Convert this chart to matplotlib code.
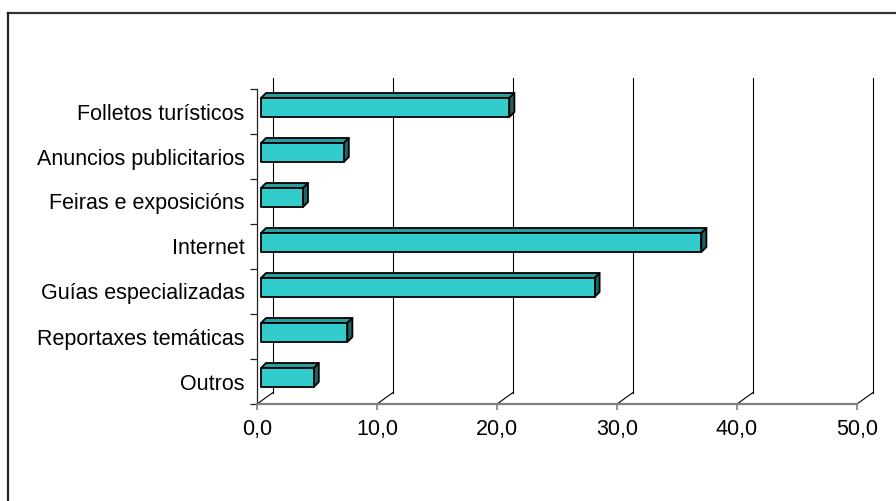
import matplotlib
matplotlib.use("Agg")
import matplotlib.pyplot as plt
from matplotlib.patches import Polygon, Rectangle
from matplotlib.lines import Line2D
import matplotlib.ticker as mticker

categories = ["Folletos turísticos", "Anuncios publicitarios", "Feiras e exposicións",
              "Internet", "Guías especializadas", "Reportaxes temáticas", "Outros"]
values = [20.7, 6.9, 3.5, 36.7, 27.8, 7.2, 4.4]
x_ticks = [0, 10, 20, 30, 40, 50]

plt.rcParams['font.family'] = ['Liberation Sans', 'DejaVu Sans']

W, H = 896, 501
fig = plt.figure(figsize=(W / 100, H / 100), dpi=100)
fig.patch.set_facecolor("white")

# plot area in pixels: x 257..857, y 89..404
ax = fig.add_axes([257 / W, (H - 404) / H, 600 / W, 315 / H])
ax.set_xlim(0, 50)
n = len(categories)
ax.set_ylim(n - 0.5, -0.5)

# data units per pixel, used for the fake 3d depth
px_x = 50 / 600
px_y = n / 315

wall_dx, wall_dy = 16 * px_x, -11.5 * px_y

# floor diagonals and back-wall gridlines
for v in x_ticks:
    ax.add_line(Line2D([v, v + wall_dx], [n - 0.5, n - 0.5 + wall_dy],
                       color="black", lw=0.8, zorder=1, clip_on=False))
    ax.add_line(Line2D([v + wall_dx, v + wall_dx], [n - 0.5 + wall_dy, -0.5 + wall_dy],
                       color="black", lw=0.8, zorder=1, clip_on=False))

# bars: front face plus top and right faces
fx, fy = 4 * px_x, -4 * px_y
bar_h = 19 * px_y
bdx, bdy = 5 * px_x, -5 * px_y
front_col, top_col, side_col = "#33CCCC", "#289E9E", "#1D6666"

for i, v in enumerate(values):
    top = i + fy - bar_h / 2
    bottom = top + bar_h
    x0, x1 = fx, fx + v
    ax.add_patch(Polygon([(x0, top), (x1, top), (x1 + bdx, top + bdy), (x0 + bdx, top + bdy)],
                         closed=True, fc=top_col, ec="black", lw=1.3, zorder=3,
                         joinstyle="round", clip_on=False))
    ax.add_patch(Polygon([(x1, top), (x1, bottom), (x1 + bdx, bottom + bdy), (x1 + bdx, top + bdy)],
                         closed=True, fc=side_col, ec="black", lw=1.3, zorder=3,
                         joinstyle="round", clip_on=False))
    ax.add_patch(Rectangle((x0, top), v, bar_h, fc=front_col, ec="black", lw=1.3,
                           zorder=4, joinstyle="round", clip_on=False))

for side in ("top", "right"):
    ax.spines[side].set_visible(False)
ax.spines["left"].set_color("#222222")
ax.spines["left"].set_linewidth(0.9)
ax.spines["bottom"].set_color("#808080")
ax.spines["bottom"].set_linewidth(1.6)
ax.spines["bottom"].set_zorder(5)

ax.set_xticks(x_ticks)
ax.set_xticklabels([f"{v:.1f}".replace(".", ",") for v in x_ticks])
ax.tick_params(axis="x", direction="out", length=4.5, width=1.2, color="#808080",
               labelsize=15.5, pad=6)

ax.set_yticks(range(n))
ax.set_yticklabels(categories)
ax.yaxis.set_minor_locator(mticker.FixedLocator([k - 0.5 for k in range(n + 1)]))
ax.tick_params(axis="y", which="major", length=0, labelsize=15.5, pad=9)
ax.tick_params(axis="y", which="minor", direction="out", length=5, width=0.9, color="#222222")

# outer chart frame (only top and left edges fall inside the image)
fig.add_artist(Line2D([8 / W, 1.0], [(H - 13) / H, (H - 13) / H],
                      transform=fig.transFigure, color="#333333", lw=1.6))
fig.add_artist(Line2D([8 / W, 8 / W], [0.0, (H - 13) / H],
                      transform=fig.transFigure, color="#222222", lw=1.6))

fig.savefig("out.png", dpi=100, facecolor="white")
